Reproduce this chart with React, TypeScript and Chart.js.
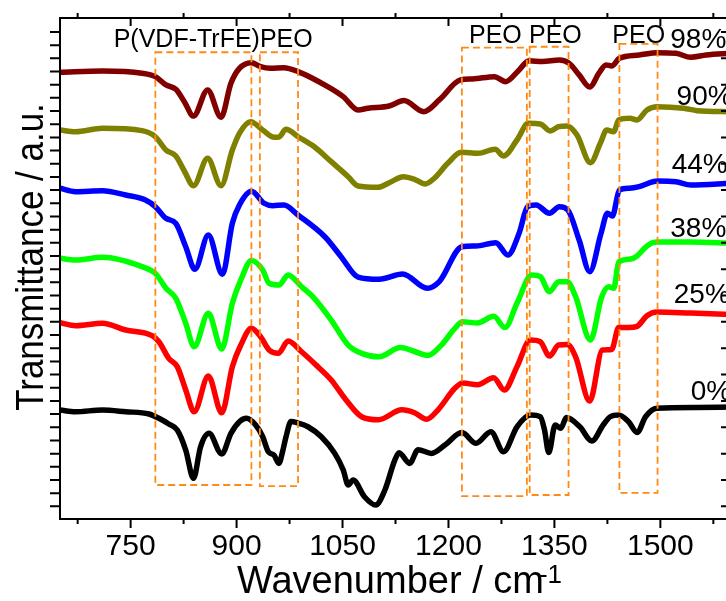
import { useEffect, useRef } from 'react';
import { Chart, registerables } from 'chart.js';

Chart.register(...registerables);

const FONT = '"Liberation Sans", Arial, Helvetica, sans-serif';

// Wavenumber (cm-1) and offset transmittance (a.u.) for each PEO content
const wn98 = [650, 710, 766, 785, 800, 814, 826, 839, 859, 878, 892, 904, 921, 934, 948, 967, 987, 1029, 1051, 1072, 1086, 1116, 1137, 1165, 1187, 1217, 1234, 1265, 1281, 1300, 1314, 1333, 1357, 1371, 1385, 1400, 1413, 1423, 1431, 1442, 1470, 1496, 1522, 1543, 1565, 1600];
const t98 = [32.94, 33.04, 32.87, 32.61, 31.98, 31.65, 30.71, 29.62, 31.6, 29.53, 32.11, 33.24, 33.67, 33.37, 33.24, 33.29, 32.99, 31.85, 31.09, 30.08, 30.21, 30.38, 30.79, 29.95, 30.84, 32.36, 32.43, 32.61, 32.23, 33.12, 33.82, 33.75, 33.87, 33.62, 32.74, 31.83, 32.87, 33.5, 33.42, 34.0, 34.25, 34.43, 34.38, 34.08, 34.25, 34.38];

const wn90 = [650, 672, 710, 766, 785, 800, 814, 826, 839, 859, 878, 894, 904, 920, 937, 953, 960, 970, 987, 1010, 1034, 1058, 1072, 1100, 1119, 1136, 1152, 1167, 1180, 1199, 1218, 1242, 1266, 1278, 1297, 1313, 1330, 1344, 1356, 1368, 1382, 1401, 1415, 1424, 1434, 1441, 1457, 1467, 1481, 1495, 1533, 1552, 1600];
const t90 = [28.56, 28.43, 28.69, 28.51, 28.05, 27.04, 26.59, 25.45, 24.33, 26.41, 24.33, 27.04, 28.31, 29.19, 28.56, 28.01, 28.03, 28.61, 28.05, 27.29, 26.16, 25.02, 24.31, 24.21, 24.64, 25.02, 24.82, 24.46, 24.9, 26.03, 26.87, 26.79, 27.1, 26.59, 27.8, 29.07, 29.02, 28.49, 28.81, 28.87, 28.18, 26.08, 27.55, 28.56, 28.43, 29.32, 29.45, 29.32, 30.08, 30.33, 30.21, 30.03, 29.95];

const wn44 = [650, 672, 710, 743, 771, 785, 800, 814, 828, 841, 860, 880, 894, 904, 921, 939, 951, 967, 987, 1025, 1048, 1072, 1102, 1135, 1170, 1187, 1219, 1239, 1267, 1284, 1300, 1312, 1324, 1343, 1357, 1369, 1385, 1400, 1416, 1425, 1432, 1442, 1456, 1470, 1496, 1522, 1543, 1600];
const t44 = [24.14, 23.88, 23.95, 23.63, 23.25, 22.74, 21.86, 21.48, 19.7, 17.99, 20.59, 17.61, 21.48, 22.87, 23.91, 23.0, 22.82, 22.87, 22.11, 20.46, 18.95, 17.4, 17.23, 17.63, 16.55, 17.05, 19.7, 19.76, 20.01, 19.07, 20.72, 22.74, 22.87, 22.24, 22.74, 22.49, 20.21, 17.81, 20.72, 22.24, 22.03, 24.01, 24.14, 24.26, 24.69, 24.64, 24.39, 24.52];

const wn38 = [650, 672, 710, 766, 785, 800, 814, 828, 840, 860, 879, 894, 906, 921, 937, 946, 960, 973, 992, 1010, 1034, 1058, 1077, 1102, 1132, 1150, 1171, 1190, 1209, 1220, 1241, 1264, 1280, 1297, 1318, 1330, 1343, 1356, 1368, 1380, 1401, 1417, 1427, 1434, 1441, 1458, 1467, 1481, 1495, 1543, 1600];
const t38 = [18.82, 18.69, 18.9, 18.19, 17.68, 16.55, 15.79, 13.89, 12.11, 14.65, 11.94, 15.41, 17.18, 18.66, 17.94, 16.93, 16.8, 17.56, 16.67, 15.79, 14.14, 12.24, 11.61, 11.35, 12.05, 11.79, 11.45, 12.24, 13.51, 14.01, 13.91, 14.42, 13.57, 15.41, 17.56, 17.43, 16.29, 17.05, 17.05, 15.91, 12.62, 15.91, 16.67, 16.55, 18.54, 18.77, 19.0, 19.76, 20.06, 20.06, 19.98];

const wn25 = [650, 672, 710, 743, 781, 790, 804, 816, 828, 840, 860, 879, 894, 906, 921, 934, 946, 959, 973, 992, 1011, 1034, 1055, 1077, 1101, 1134, 1152, 1169, 1185, 1209, 1220, 1241, 1264, 1279, 1297, 1316, 1330, 1343, 1356, 1368, 1380, 1400, 1418, 1431, 1441, 1455, 1467, 1481, 1495, 1543, 1600];
const t25 = [13.94, 13.71, 13.89, 13.38, 12.93, 12.49, 11.23, 10.6, 8.83, 7.18, 9.89, 7.1, 10.6, 12.24, 13.51, 12.87, 11.86, 11.61, 12.55, 11.73, 10.8, 9.59, 8.07, 6.8, 6.57, 7.33, 7.1, 6.61, 7.31, 8.96, 9.36, 9.23, 9.76, 8.83, 10.6, 12.62, 12.49, 11.41, 12.24, 12.28, 11.35, 7.99, 11.86, 11.9, 13.57, 13.57, 13.66, 14.46, 14.75, 14.67, 14.56];

const wn0 = [650, 672, 710, 743, 776, 790, 804, 816, 828, 839, 849, 861, 879, 892, 904, 914, 927, 937, 945, 953, 960, 965, 970, 977, 987, 1001, 1020, 1039, 1051, 1058, 1065, 1081, 1097, 1110, 1124, 1130, 1145, 1157, 1176, 1195, 1219, 1239, 1260, 1278, 1297, 1316, 1330, 1336, 1342, 1351, 1359, 1367, 1386, 1403, 1419, 1429, 1441, 1455, 1467, 1479, 1495, 1551, 1600];
const t0 = [7.31, 7.18, 7.31, 7.18, 7.01, 6.68, 6.25, 5.79, 4.27, 2.13, 4.52, 5.54, 3.97, 5.54, 6.42, 6.68, 6.17, 5.28, 4.14, 3.89, 3.26, 4.12, 5.28, 6.44, 6.32, 6.04, 5.28, 4.02, 2.76, 1.62, 2.0, 0.73, 0.1, 1.24, 3.51, 4.07, 3.26, 4.3, 4.02, 4.65, 5.6, 4.78, 5.66, 4.14, 6.04, 6.93, 6.8, 5.79, 4.08, 6.17, 5.92, 6.74, 6.04, 4.96, 6.17, 6.8, 6.93, 6.42, 5.6, 6.8, 7.44, 7.51, 7.54];

const SERIES_NAMES = ['98%', '90%', '44%', '38%', '25%', '0%'];
const SERIES_COLORS = ['#800000', '#808000', '#0000FF', '#00FF00', '#FF0000', '#000000'];
const SERIES_X = [wn98, wn90, wn44, wn38, wn25, wn0];
const SERIES_Y = [t98, t90, t44, t38, t25, t0];
// where each percentage label sits (left edge, baseline)
const NAME_X = [1514, 1523, 1516, 1514, 1519, 1543];
const NAME_Y = [34.76, 30.46, 25.28, 20.46, 15.41, 8.07];

// axis ranges and ticks
const X_MIN = 650;
const X_MAX = 1600;
const Y_MIN = -0.96;
const Y_MAX = 37.06;
const X_MAJOR = [750, 900, 1050, 1200, 1350, 1500];
const X_MINOR = [675, 825, 975, 1125, 1275, 1425, 1575];
const Y_TICKS = Array.from({ length: 37 }, (_, i) => i);

// dashed band markers and their captions
const BOX_FROM = [785, 933, 1219, 1315, 1442];
const BOX_TO = [921, 987, 1311, 1370, 1496];
const BOX_TOP = [34.46, 34.46, 34.81, 34.88, 35.09];
const BOX_BOTTOM = [1.62, 1.54, 0.78, 0.86, 1.03];
const BAND_TEXT = ['P(VDF-TrFE)', 'PEO', 'PEO', 'PEO', 'PEO'];
const BAND_TEXT_X = [726, 933, 1229, 1314, 1432];
const BAND_TEXT_Y = [34.86, 34.86, 35.15, 35.15, 35.15];
const BOX_COLOR = '#FF8A14';

const X_TITLE = 'Wavenumber / cm';
const X_TITLE_SUP = '-1';
const Y_TITLE = 'Transmittance / a.u.';

const decor = {
  id: 'decor',
  afterDatasetsDraw(chart: any) {
    const { ctx } = chart;
    const xs = chart.scales.x;
    const ys = chart.scales.y;
    ctx.save();
    ctx.strokeStyle = BOX_COLOR;
    ctx.lineWidth = 1.8;
    ctx.setLineDash([7, 4]);
    for (let i = 0; i < BOX_FROM.length; i++) {
      const x0 = xs.getPixelForValue(BOX_FROM[i]);
      const x1 = xs.getPixelForValue(BOX_TO[i]);
      const y0 = ys.getPixelForValue(BOX_TOP[i]);
      const y1 = ys.getPixelForValue(BOX_BOTTOM[i]);
      ctx.strokeRect(x0, y0, x1 - x0, y1 - y0);
    }
    ctx.restore();
  },
  afterDraw(chart: any) {
    const { ctx, chartArea: a } = chart;
    const xs = chart.scales.x;
    const ys = chart.scales.y;
    ctx.save();
    ctx.strokeStyle = '#000';
    ctx.lineWidth = 2;
    ctx.setLineDash([]);
    ctx.strokeRect(a.left, a.top, a.right - a.left, a.bottom - a.top);

    ctx.beginPath();
    for (const v of X_MAJOR) {
      const p = xs.getPixelForValue(v);
      ctx.moveTo(p, a.bottom); ctx.lineTo(p, a.bottom + 9);
      ctx.moveTo(p, a.top); ctx.lineTo(p, a.top + 8);
    }
    for (const v of X_MINOR) {
      const p = xs.getPixelForValue(v);
      ctx.moveTo(p, a.bottom); ctx.lineTo(p, a.bottom + 5);
      ctx.moveTo(p, a.top); ctx.lineTo(p, a.top - 5);
    }
    for (const v of Y_TICKS) {
      const p = ys.getPixelForValue(v);
      ctx.moveTo(a.left, p); ctx.lineTo(a.left - 10, p);
      if (v % 2 === 0) {
        ctx.moveTo(a.right, p); ctx.lineTo(a.right - 10, p);
      } else {
        ctx.moveTo(a.right, p); ctx.lineTo(a.right + 5, p);
      }
    }
    ctx.stroke();

    ctx.fillStyle = '#000';
    ctx.textAlign = 'left';
    ctx.textBaseline = 'alphabetic';
    ctx.font = `25px ${FONT}`;
    for (let i = 0; i < BAND_TEXT.length; i++) {
      ctx.fillText(BAND_TEXT[i], xs.getPixelForValue(BAND_TEXT_X[i]), ys.getPixelForValue(BAND_TEXT_Y[i]));
    }
    ctx.font = `28px ${FONT}`;
    for (let i = 0; i < SERIES_NAMES.length; i++) {
      ctx.fillText(SERIES_NAMES[i], xs.getPixelForValue(NAME_X[i]), ys.getPixelForValue(NAME_Y[i]));
    }

    // axis titles
    ctx.font = `38px ${FONT}`;
    const w = ctx.measureText(X_TITLE).width;
    const left = 237;
    ctx.fillText(X_TITLE, left, 593);
    ctx.font = `26px ${FONT}`;
    ctx.fillText(X_TITLE_SUP, left + w - 5, 583);

    ctx.translate(43, 257);
    ctx.rotate(-Math.PI / 2);
    ctx.scale(0.92, 1);
    ctx.textAlign = 'center';
    ctx.font = `38px ${FONT}`;
    ctx.fillText(Y_TITLE, 0, 0);
    ctx.restore();
  },
};

export default function App() {
  const ref = useRef<HTMLCanvasElement>(null);

  useEffect(() => {
    document.body.style.margin = '0';
    const datasets = SERIES_NAMES.map((name, i) => ({
      label: name,
      data: SERIES_X[i].map((x, j) => ({ x, y: SERIES_Y[i][j] })),
      borderColor: SERIES_COLORS[i],
      backgroundColor: SERIES_COLORS[i],
      borderWidth: 5.5,
      pointRadius: 0,
      cubicInterpolationMode: 'monotone' as const,
      borderCapStyle: 'round' as const,
      borderJoinStyle: 'round' as const,
      fill: false,
    }));

    const chart = new Chart(ref.current!, {
      type: 'line',
      data: { datasets },
      options: {
        responsive: false,
        devicePixelRatio: 1,
        animation: false,
        layout: { padding: { left: 0, top: 18, right: 9, bottom: 0 } },
        plugins: { legend: { display: false }, tooltip: { enabled: false } },
        scales: {
          x: {
            type: 'linear',
            min: X_MIN,
            max: X_MAX,
            grid: { display: false, drawTicks: false },
            border: { display: false },
            afterBuildTicks: (scale: any) => {
              scale.ticks = X_MAJOR.map((value) => ({ value }));
            },
            afterFit: (scale: any) => {
              scale.height = 82;
            },
            ticks: {
              padding: 10,
              maxRotation: 0,
              autoSkip: false,
              color: '#000',
              font: { family: FONT, size: 30 },
              callback: (value: any) => String(value),
            },
          },
          y: {
            type: 'linear',
            min: Y_MIN,
            max: Y_MAX,
            grid: { display: false, drawTicks: false },
            border: { display: false },
            ticks: { display: false },
            afterFit: (scale: any) => {
              scale.width = 60;
            },
          },
        },
      },
      plugins: [decor],
    });
    return () => chart.destroy();
  }, []);

  return (
    <div style={{ position: 'fixed', left: 0, top: 0, width: 726, height: 601, overflow: 'hidden', background: '#fff' }}>
      <canvas ref={ref} width={740} height={601} style={{ display: 'block', width: 740, height: 601 }} />
    </div>
  );
}
